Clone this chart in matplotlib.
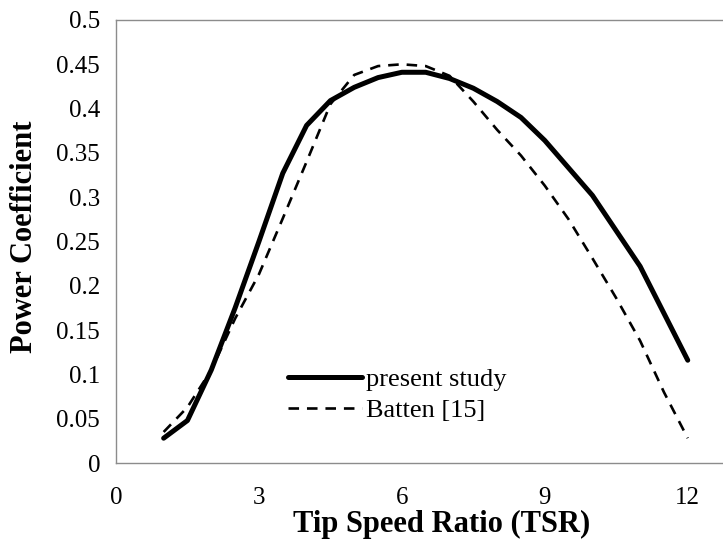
import matplotlib
matplotlib.use("Agg")
import matplotlib.pyplot as plt

# Data
tsr_present = [1, 1.5, 2, 2.5, 3, 3.5, 4, 4.5, 5, 5.5, 6, 6.5, 7, 7.5, 8, 8.5, 9, 10, 11, 12]
cp_present = [0.028, 0.048, 0.105, 0.175, 0.250, 0.327, 0.381, 0.409, 0.424, 0.435,
              0.441, 0.441, 0.434, 0.423, 0.408, 0.390, 0.364, 0.302, 0.222, 0.116]

tsr_batten = [1, 1.5, 2, 2.5, 3, 3.5, 4, 4.5, 5, 5.5, 6, 6.5, 7, 7.5, 8, 8.5, 9, 9.5,
              10, 10.5, 11, 11.5, 12]
cp_batten = [0.035, 0.063, 0.105, 0.163, 0.213, 0.276, 0.340, 0.405, 0.438, 0.448,
             0.450, 0.448, 0.437, 0.408, 0.376, 0.347, 0.313, 0.275, 0.231, 0.186,
             0.138, 0.080, 0.028]

x_ticks = [0, 3, 6, 9, 12]
y_ticks = [0, 0.05, 0.1, 0.15, 0.2, 0.25, 0.3, 0.35, 0.4, 0.45, 0.5]
y_tick_labels = ["0", "0.05", "0.1", "0.15", "0.2", "0.25", "0.3", "0.35", "0.4", "0.45", "0.5"]

plt.rcParams['font.family'] = ['Liberation Serif', 'DejaVu Serif']

fig = plt.figure(figsize=(7.23, 5.42), dpi=100)
ax = fig.add_axes([116/723, 79/542, 1 - 116/723, (463-20)/542])

ax.plot(tsr_present, cp_present, color='black', lw=3.6, solid_joinstyle='round',
        solid_capstyle='round', label='present study')
ax.plot(tsr_batten, cp_batten, color='black', lw=1.9, linestyle=(0, (4, 3)),
        label='Batten [15]')

ax.set_xlim(0, 12.74)
ax.set_ylim(0, 0.5)
ax.set_xticks(x_ticks)
ax.set_xticklabels([str(t) for t in x_ticks])
ax.set_yticks(y_ticks)
ax.set_yticklabels(y_tick_labels)
ax.tick_params(axis='both', length=0, labelsize=18)
ax.tick_params(axis='y', pad=11.5)
ax.tick_params(axis='x', pad=17.5)

for s in ['left', 'top', 'bottom', 'right']:
    ax.spines[s].set_color('#8c8c8c')
    ax.spines[s].set_linewidth(1.0)
ax.spines['right'].set_visible(False)

fig.text(25/723, 1 - 237/542, 'Power Coefficient', fontsize=22, fontweight='bold',
         rotation=90, ha='center', va='center')
fig.text(442/723, 1 - 524/542, 'Tip Speed Ratio (TSR)', fontsize=22, fontweight='bold',
         ha='center', va='center')

ax.legend(loc='upper left', bbox_to_anchor=((288-116)/(723-116), (463-368)/443),
          frameon=False, fontsize=19, handlelength=2.8, handletextpad=0.15,
          labelspacing=0.27, borderaxespad=0, borderpad=0)

fig.savefig('out.png', dpi=100)
